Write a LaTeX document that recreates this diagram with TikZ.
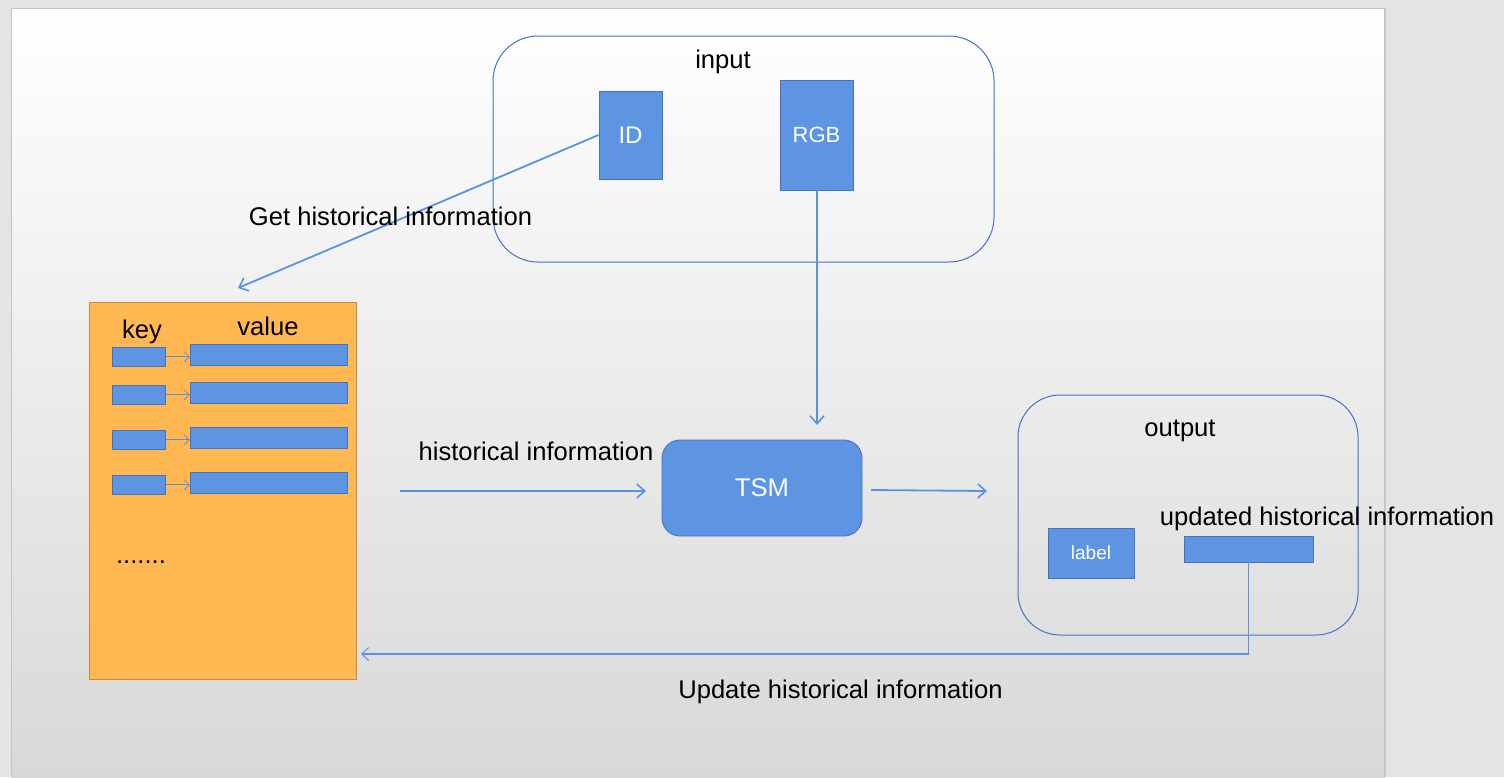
\documentclass[tikz,border=0pt]{standalone}
\usepackage{fontspec}
\setmainfont{Liberation Sans}
\usetikzlibrary{arrows.meta,calc}
\definecolor{outerbg}{RGB}{228,228,228}
\definecolor{slideedge}{RGB}{198,198,198}
\definecolor{boxfill}{RGB}{94,149,227}
\definecolor{boxedge}{RGB}{68,114,196}
\definecolor{arrowc}{RGB}{92,145,226}
\definecolor{orangefill}{RGB}{255,184,82}
\definecolor{orangeedge}{RGB}{200,140,55}
\definecolor{gradbot}{RGB}{216,216,216}
\definecolor{gradmid}{RGB}{243,243,243}
\tikzset{
  bluebox/.style={draw=boxedge, fill=boxfill, line width=0.9pt, inner sep=0pt, text=white},
  frame/.style={draw=boxedge, line width=1pt, inner sep=0pt},
  lbl/.style={inner sep=0pt, anchor=base, font=\fontsize{25.6}{28}\selectfont, text=black},
  conn/.style={draw=arrowc, line width=1.8pt, -{Straight Barb[length=8pt,width=14pt,line width=1.6pt]}},
  thinconn/.style={draw=arrowc, line width=1.1pt, -{Straight Barb[length=7pt,width=13pt,line width=1pt]}},
  kvconn/.style={draw=arrowc!80!gray, line width=0.8pt, -{Straight Barb[length=5pt,width=10pt,line width=0.8pt]}},
}
\begin{document}
\begin{tikzpicture}[x=1pt,y=-1pt]
\useasboundingbox (0,0) rectangle (1504,777);
\fill[outerbg] (0,0) rectangle (1504,777);
\shade[top color=white, middle color=gradmid, bottom color=gradbot] (11.5,8.5) rectangle (1385,777);
\draw[slideedge, line width=1.4pt] (11.5,777) -- (11.5,8.5) -- (1385,8.5) -- (1385,777);

% input group
\node[frame, rounded corners=45pt, minimum width=501pt, minimum height=226pt] (input) at (743.5,149) {};
\node[lbl] (inputlbl) at (723,68.5) {input};
\node[bluebox, minimum width=63pt, minimum height=88pt, font=\fontsize{24}{26}\selectfont] (id) at (630.5,135) {ID};
\node[bluebox, minimum width=73pt, minimum height=110pt, font=\fontsize{22}{24}\selectfont] (rgb) at (816.5,135) {RGB};

% key-value store
\node[draw=orangeedge, fill=orangefill, line width=0.9pt, inner sep=0pt, minimum width=267pt, minimum height=377pt] (store) at (222.5,490.5) {};
\node[lbl] (keylbl) at (142,338) {key};
\node[lbl] (valuelbl) at (268,335) {value};
\foreach \i/\ky/\vy in {1/356.8/354.8, 2/394.8/392.8, 3/439.8/437.8, 4/484.8/482.8} {
  \node[bluebox, minimum width=53.5pt, minimum height=19pt] (k\i) at (139,\ky) {};
  \node[bluebox, minimum width=157.5pt, minimum height=21pt] (v\i) at (269,\vy) {};
  \draw[kvconn] (k\i.east) -- (k\i.east -| v\i.west);
}
\node[lbl] (dots) at (141,563) {.......};

% TSM
\node[bluebox, rounded corners=18pt, minimum width=200pt, minimum height=96pt, font=\fontsize{25.6}{28}\selectfont] (tsm) at (762,488) {TSM};

% output group
\node[frame, rounded corners=42pt, minimum width=340pt, minimum height=240pt] (output) at (1188,515) {};
\node[lbl] (outputlbl) at (1180,436.5) {output};
\node[bluebox, minimum width=86pt, minimum height=50pt, font=\fontsize{19}{22}\selectfont] (label) at (1091,553) {label};
\node[bluebox, minimum width=129pt, minimum height=26pt] (updated) at (1248.5,549) {};
\node[lbl] (updatedlbl) at (1327,525.5) {updated historical information};

% connectors
\coordinate (gethead) at (238,288);
\draw[conn] (id.west) -- (gethead);
\node[lbl] (getlbl) at (390.5,225) {Get historical information};

\coordinate (rgbhead) at (817,425);
\draw[conn] (rgb.south -| rgbhead) -- (rgbhead);

\coordinate (histstart) at (400,491);
\coordinate (histend) at (646,491);
\draw[conn] (histstart) -- (histend);
\node[lbl] (histlbl) at (536,460) {historical information};

\coordinate (outstart) at (871,490);
\coordinate (outend) at (987,491);
\draw[conn] (outstart) -- (outend);

\coordinate (updcorner) at (1248.5,654);
\coordinate (updhead) at (361,654);
\draw[thinconn] (updated.south) -- (updcorner) -- (updhead);
\node[lbl] (updlbl) at (840.5,698) {Update historical information};
\end{tikzpicture}
\end{document}
